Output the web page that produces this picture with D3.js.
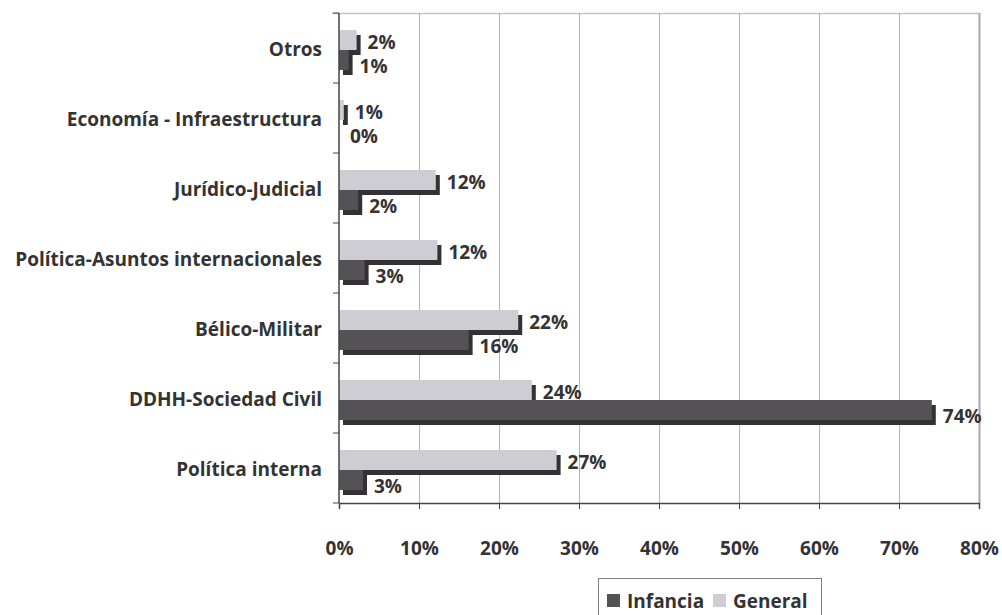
<!DOCTYPE html>
<html>
<head>
<meta charset="utf-8">
<script src="https://cdn.jsdelivr.net/npm/d3@7"></script>
<style>
  body { margin: 0; background: #fff; }
  svg { font-family: "Open Sans", sans-serif; font-weight: 700; }
</style>
</head>
<body>
<div id="chart"></div>
<script>
const categories = ["Otros", "Economía - Infraestructura", "Jurídico-Judicial", "Política-Asuntos internacionales", "Bélico-Militar", "DDHH-Sociedad Civil", "Política interna"];
const general = [2.2, 0.6, 12.1, 12.3, 22.4, 24.1, 27.2];
const infancia = [1.2, 0, 2.4, 3.2, 16.2, 74.1, 3.0];
const xTicks = [0, 10, 20, 30, 40, 50, 60, 70, 80];
const seriesNames = ["Infancia", "General"];

const colGeneral = "#cdcdd3", colInfancia = "#545254", colShadow = "#333133", colText = "#333333";
const fs = "19px";

const svg = d3.select("#chart").append("svg")
    .attr("width", 1002)
    .attr("height", 615);

const x = d3.scaleLinear().domain([0, 80]).range([339, 979]);
const y = d3.scaleBand().domain(categories).range([13, 503]).padding(0);

// top border of plot
svg.append("line")
    .attr("x1", 332).attr("x2", 980)
    .attr("y1", 13.5).attr("y2", 13.5)
    .attr("stroke", "#c4c4c8").attr("stroke-width", 1.5);

// grid lines
svg.append("g").selectAll("line")
    .data(xTicks.slice(1))
    .enter().append("line")
    .attr("x1", d => x(d) + 0.5).attr("x2", d => x(d) + 0.5)
    .attr("y1", 13).attr("y2", 503)
    .attr("stroke", d => d === 80 ? "#a8a8b0" : "#b4b4bc")
    .attr("stroke-width", d => d === 80 ? 2 : 1);

// bars, drawn with a dark offset "depth" behind each one
const rows = categories.map((c, i) => ({ cat: c, g: general[i], inf: infancia[i] }));
const bh = 20, off = 17;

rows.forEach(r => {
    const y0 = y(r.cat) + off;
    [[r.g, colGeneral, y0], [r.inf, colInfancia, y0 + bh]].forEach(([v, col, yy]) => {
        if (v <= 0) return;
        svg.append("rect")
            .attr("x", x(0) + 4).attr("y", yy + 5)
            .attr("width", x(v) - x(0)).attr("height", bh)
            .attr("fill", colShadow);
        svg.append("rect")
            .attr("x", x(0)).attr("y", yy)
            .attr("width", x(v) - x(0)).attr("height", bh)
            .attr("fill", col);
    });
});

// value labels (general a bit higher, infancia a bit lower)
rows.forEach(r => {
    const y0 = y(r.cat) + off;
    [[r.g, y0 + 2], [r.inf, y0 + bh + 6]].forEach(([v, yy]) => {
        svg.append("text")
            .attr("x", x(v) + 11)
            .attr("y", yy + bh / 2)
            .attr("dominant-baseline", "central")
            .attr("fill", colText)
            .style("font-size", fs)
            .text(Math.round(v) + "%");
    });
});

// y axis
const yAxis = svg.append("g")
    .attr("transform", "translate(339,0)");
yAxis.append("line")
    .attr("x1", 0).attr("x2", 0).attr("y1", 13).attr("y2", 503)
    .attr("stroke", "#444").attr("stroke-width", 1.5);
yAxis.selectAll(".tk")
    .data(d3.range(categories.length + 1))
    .enter().append("line")
    .attr("x1", -6).attr("x2", 0)
    .attr("y1", i => 13 + i * y.bandwidth()).attr("y2", i => 13 + i * y.bandwidth())
    .attr("stroke", "#444");
yAxis.selectAll(".lbl")
    .data(categories)
    .enter().append("text")
    .attr("x", -17)
    .attr("y", d => y(d) + y.bandwidth() / 2 + 1)
    .attr("text-anchor", "end")
    .attr("dominant-baseline", "central")
    .attr("fill", colText)
    .style("font-size", fs)
    .text(d => d);

// x axis
const xAxis = svg.append("g")
    .attr("transform", "translate(0,503)")
    .call(d3.axisBottom(x).tickValues(xTicks).tickSize(6).tickFormat(d => d + "%"));
xAxis.select(".domain").attr("stroke", "#444").attr("stroke-width", 1.5);
xAxis.selectAll(".tick line").attr("stroke", "#444");
xAxis.selectAll(".tick text")
    .attr("y", 45)
    .attr("dy", "0")
    .attr("dominant-baseline", "central")
    .attr("fill", colText)
    .style("font-size", fs)
    .style("font-family", "'Open Sans', sans-serif")
    .style("font-weight", 700);

// legend
const legend = svg.append("g").attr("transform", "translate(598,578)");
legend.append("rect")
    .attr("x", 0.5).attr("y", 0.5)
    .attr("width", 223).attr("height", 44)
    .attr("fill", "#fff").attr("stroke", "#808080");
const legX = [9, 115];
seriesNames.forEach((name, i) => {
    legend.append("rect")
        .attr("x", legX[i]).attr("y", 16)
        .attr("width", 13).attr("height", 13)
        .attr("fill", i === 0 ? colInfancia : colGeneral);
    legend.append("text")
        .attr("x", legX[i] + 20).attr("y", 23)
        .attr("dominant-baseline", "central")
        .attr("fill", colText)
        .style("font-size", fs)
        .text(name);
});
</script>
</body>
</html>
